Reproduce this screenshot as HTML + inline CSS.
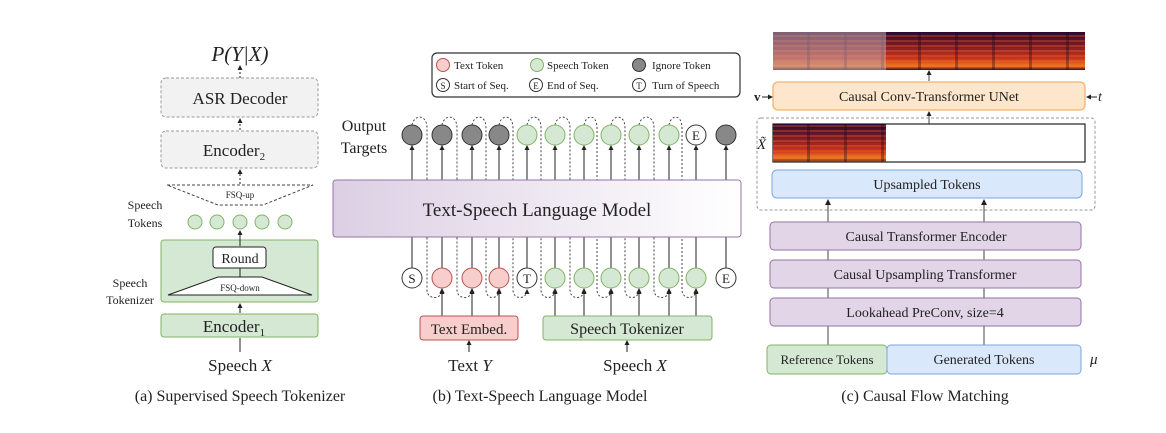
<!DOCTYPE html>
<html><head><meta charset="utf-8"><style>
html,body{margin:0;padding:0;background:#fff;}
svg{display:block;}
text{font-family:"Liberation Serif",serif;fill:#222;}
</style></head><body>
<svg width="1166" height="433" viewBox="0 0 1166 433" xmlns="http://www.w3.org/2000/svg">
<defs>
<marker id="ah" markerWidth="6" markerHeight="6" refX="5" refY="3" orient="auto" markerUnits="userSpaceOnUse"><path d="M0,0 L6,3 L0,6 Z" fill="#222"/></marker>
<marker id="ahs" markerWidth="5" markerHeight="5" refX="4" refY="2.5" orient="auto" markerUnits="userSpaceOnUse"><path d="M0,0 L5,2.5 L0,5 Z" fill="#222"/></marker>
<linearGradient id="lmg" x1="0" x2="1" y1="0" y2="0"><stop offset="0" stop-color="#dccfe4"/><stop offset="1" stop-color="#ffffff"/></linearGradient>
<linearGradient id="spv" x1="0" x2="0" y1="0" y2="1"><stop offset="0" stop-color="#2a0a30"/><stop offset="0.35" stop-color="#7a1a28"/><stop offset="0.7" stop-color="#c8351c"/><stop offset="0.9" stop-color="#f07a20"/><stop offset="1" stop-color="#3a0a20"/></linearGradient>
<pattern id="stripes" width="8" height="5" patternUnits="userSpaceOnUse"><rect width="8" height="2" fill="#ff6a20" opacity="0.3"/></pattern>
<pattern id="vbands" width="37" height="40" patternUnits="userSpaceOnUse"><rect x="30" width="3" height="40" fill="#1a0520" opacity="0.35"/></pattern>
</defs>

<!-- (a) -->
<text x="240" y="61" font-size="21" text-anchor="middle" font-style="italic">P(Y|X)</text>
<line x1="240" y1="78" x2="240" y2="66" stroke="#222" stroke-dasharray="2,2" marker-end="url(#ahs)"/>
<rect x="161" y="78" width="157" height="39" rx="5" fill="#f2f2f2" stroke="#999" stroke-dasharray="3,2"/>
<text x="240" y="104" font-size="17" text-anchor="middle" fill="#555">ASR Decoder</text>
<line x1="240" y1="130" x2="240" y2="119" stroke="#222" stroke-dasharray="2,2" marker-end="url(#ahs)"/>
<rect x="161" y="131" width="157" height="37" rx="5" fill="#f2f2f2" stroke="#999" stroke-dasharray="3,2"/>
<text x="234" y="156" font-size="17" text-anchor="middle">Encoder<tspan font-size="11" dy="4">2</tspan></text>
<line x1="240" y1="184" x2="240" y2="170" stroke="#222" stroke-dasharray="2,2" marker-end="url(#ahs)"/>
<path d="M167,185 L313,185 L263,205 L218,205 Z" fill="none" stroke="#444" stroke-dasharray="3,2"/>
<text x="240" y="198" font-size="9" text-anchor="middle">FSQ-up</text>
<text x="145" y="209" font-size="12" text-anchor="middle">Speech</text>
<text x="145" y="227" font-size="12" text-anchor="middle">Tokens</text>
<g fill="#d5e8d4" stroke="#82b366"><circle cx="195" cy="222" r="7"/><circle cx="217" cy="222" r="7"/><circle cx="240" cy="222" r="7"/><circle cx="262" cy="222" r="7"/><circle cx="285" cy="222" r="7"/></g>
<rect x="161" y="240" width="157" height="62" rx="3" fill="#d5e8d4" stroke="#82b366"/>
<line x1="240" y1="246" x2="240" y2="231" stroke="#222" marker-end="url(#ahs)"/>
<rect x="213" y="247" width="53" height="21" rx="3" fill="#fff" stroke="#222"/>
<text x="240" y="263" font-size="14" text-anchor="middle">Round</text>
<line x1="240" y1="277" x2="240" y2="268" stroke="#222"/>
<path d="M218,277 L262,277 L312,295 L168,295 Z" fill="#fff" stroke="#222"/>
<text x="240" y="291" font-size="9" text-anchor="middle">FSQ-down</text>
<text x="130" y="287" font-size="12" text-anchor="middle">Speech</text>
<text x="130" y="304" font-size="12" text-anchor="middle">Tokenizer</text>
<line x1="240" y1="313" x2="240" y2="304" stroke="#222" marker-end="url(#ahs)"/>
<rect x="161" y="314" width="157" height="23" rx="3" fill="#d5e8d4" stroke="#82b366"/>
<text x="234" y="332" font-size="17" text-anchor="middle">Encoder<tspan font-size="11" dy="4">1</tspan></text>
<line x1="240" y1="352" x2="240" y2="338" stroke="#222"/>
<text x="240" y="371" font-size="17" text-anchor="middle">Speech <tspan font-style="italic">X</tspan></text>
<text x="240" y="401" font-size="16" text-anchor="middle">(a) Supervised Speech Tokenizer</text>

<!-- (b) -->
<rect x="432" y="53" width="308" height="44" rx="5" fill="#fff" stroke="#333" stroke-width="1.2"/>
<circle cx="443" cy="65" r="6.5" fill="#f8cecc" stroke="#b85450"/><text x="454" y="69" font-size="11">Text Token</text>
<circle cx="537" cy="65" r="6.5" fill="#d5e8d4" stroke="#82b366"/><text x="547" y="69" font-size="11">Speech Token</text>
<circle cx="639" cy="65" r="6.5" fill="#888" stroke="#333"/><text x="652" y="69" font-size="11">Ignore Token</text>
<circle cx="443" cy="85" r="6.5" fill="#fff" stroke="#333"/><text x="443" y="89" font-size="9" text-anchor="middle">S</text><text x="454" y="89" font-size="11">Start of Seq.</text>
<circle cx="536" cy="85" r="6.5" fill="#fff" stroke="#333"/><text x="536" y="89" font-size="9" text-anchor="middle">E</text><text x="547" y="89" font-size="11">End of Seq.</text>
<circle cx="639" cy="85" r="6.5" fill="#fff" stroke="#333"/><text x="639" y="89" font-size="9" text-anchor="middle">T</text><text x="652" y="89" font-size="11">Turn of Speech</text>

<text x="364" y="131" font-size="16" text-anchor="middle">Output</text>
<text x="364" y="153" font-size="16" text-anchor="middle">Targets</text>

<g fill="none" stroke="#333" stroke-dasharray="2,2" stroke-width="0.9">
<path d="M412,125 C414,114 427,114 427,128 L427,290 C427,300 442,300 442,290" marker-end="url(#ahs)"/>
<path d="M442,125 C444,114 457,114 457,128 L457,290 C457,300 472,300 472,290" marker-end="url(#ahs)"/>
<path d="M472,125 C474,114 486,114 486,128 L486,290 C486,300 499,300 499,290" marker-end="url(#ahs)"/>
<path d="M499,125 C501,114 513,114 513,128 L513,290 C513,300 527,300 527,290" marker-end="url(#ahs)"/>
<path d="M527,125 C529,114 541,114 541,128 L541,290 C541,300 555,300 555,290" marker-end="url(#ahs)"/>
<path d="M555,125 C557,114 570,114 570,128 L570,290 C570,300 584,300 584,290" marker-end="url(#ahs)"/>
<path d="M584,125 C586,114 597,114 597,128 L597,290 C597,300 611,300 611,290" marker-end="url(#ahs)"/>
<path d="M611,125 C613,114 625,114 625,128 L625,290 C625,300 639,300 639,290" marker-end="url(#ahs)"/>
<path d="M639,125 C641,114 654,114 654,128 L654,290 C654,300 669,300 669,290" marker-end="url(#ahs)"/>
<path d="M669,125 C671,114 682,114 682,128 L682,290 C682,300 696,300 696,290" marker-end="url(#ahs)"/>
</g>
<g stroke="#222">
<line x1="412" y1="180" x2="412" y2="146" marker-end="url(#ahs)"/><line x1="442" y1="180" x2="442" y2="146" marker-end="url(#ahs)"/><line x1="472" y1="180" x2="472" y2="146" marker-end="url(#ahs)"/><line x1="499" y1="180" x2="499" y2="146" marker-end="url(#ahs)"/><line x1="527" y1="180" x2="527" y2="146" marker-end="url(#ahs)"/><line x1="555" y1="180" x2="555" y2="146" marker-end="url(#ahs)"/><line x1="584" y1="180" x2="584" y2="146" marker-end="url(#ahs)"/><line x1="611" y1="180" x2="611" y2="146" marker-end="url(#ahs)"/><line x1="639" y1="180" x2="639" y2="146" marker-end="url(#ahs)"/><line x1="669" y1="180" x2="669" y2="146" marker-end="url(#ahs)"/><line x1="696" y1="180" x2="696" y2="146" marker-end="url(#ahs)"/><line x1="726" y1="180" x2="726" y2="146" marker-end="url(#ahs)"/>
<line x1="412" y1="268" x2="412" y2="237"/><line x1="442" y1="268" x2="442" y2="237"/><line x1="472" y1="268" x2="472" y2="237"/><line x1="499" y1="268" x2="499" y2="237"/><line x1="527" y1="268" x2="527" y2="237"/><line x1="555" y1="268" x2="555" y2="237"/><line x1="584" y1="268" x2="584" y2="237"/><line x1="611" y1="268" x2="611" y2="237"/><line x1="639" y1="268" x2="639" y2="237"/><line x1="669" y1="268" x2="669" y2="237"/><line x1="696" y1="268" x2="696" y2="237"/><line x1="726" y1="268" x2="726" y2="237"/>
<line x1="442" y1="316" x2="442" y2="289" marker-end="url(#ahs)"/><line x1="472" y1="316" x2="472" y2="289" marker-end="url(#ahs)"/><line x1="499" y1="316" x2="499" y2="289" marker-end="url(#ahs)"/>
<line x1="555" y1="316" x2="555" y2="289" marker-end="url(#ahs)"/><line x1="584" y1="316" x2="584" y2="289" marker-end="url(#ahs)"/><line x1="611" y1="316" x2="611" y2="289" marker-end="url(#ahs)"/><line x1="639" y1="316" x2="639" y2="289" marker-end="url(#ahs)"/><line x1="669" y1="316" x2="669" y2="289" marker-end="url(#ahs)"/><line x1="696" y1="316" x2="696" y2="289" marker-end="url(#ahs)"/>
<line x1="469" y1="352" x2="469" y2="341" marker-end="url(#ahs)"/><line x1="627" y1="352" x2="627" y2="341" marker-end="url(#ahs)"/>
</g>
<g fill="#888" stroke="#333"><circle cx="412" cy="135" r="10"/><circle cx="442" cy="135" r="10"/><circle cx="472" cy="135" r="10"/><circle cx="499" cy="135" r="10"/><circle cx="726" cy="135" r="10"/></g>
<g fill="#d5e8d4" stroke="#82b366"><circle cx="527" cy="135" r="10"/><circle cx="555" cy="135" r="10"/><circle cx="584" cy="135" r="10"/><circle cx="611" cy="135" r="10"/><circle cx="639" cy="135" r="10"/><circle cx="669" cy="135" r="10"/></g>
<circle cx="696" cy="135" r="10" fill="#fff" stroke="#333"/><text x="696" y="140" font-size="13" text-anchor="middle">E</text>

<rect x="333" y="180" width="408" height="57" rx="3" fill="url(#lmg)" stroke="#9673a6"/>
<text x="537" y="216" font-size="19" text-anchor="middle">Text-Speech Language Model</text>

<circle cx="412" cy="278" r="10" fill="#fff" stroke="#333"/><text x="412" y="283" font-size="13" text-anchor="middle">S</text>
<g fill="#f8cecc" stroke="#b85450"><circle cx="442" cy="278" r="10"/><circle cx="472" cy="278" r="10"/><circle cx="499" cy="278" r="10"/></g>
<circle cx="527" cy="278" r="10" fill="#fff" stroke="#333"/><text x="527" y="283" font-size="13" text-anchor="middle">T</text>
<g fill="#d5e8d4" stroke="#82b366"><circle cx="555" cy="278" r="10"/><circle cx="584" cy="278" r="10"/><circle cx="611" cy="278" r="10"/><circle cx="639" cy="278" r="10"/><circle cx="669" cy="278" r="10"/><circle cx="696" cy="278" r="10"/></g>
<circle cx="726" cy="278" r="10" fill="#fff" stroke="#333"/><text x="726" y="283" font-size="13" text-anchor="middle">E</text>

<rect x="420" y="316" width="98" height="24" rx="3" fill="#f8cecc" stroke="#b85450"/>
<text x="469" y="334" font-size="15" text-anchor="middle">Text Embed.</text>
<rect x="543" y="316" width="169" height="24" rx="3" fill="#d5e8d4" stroke="#82b366"/>
<text x="627" y="334" font-size="16" text-anchor="middle">Speech Tokenizer</text>
<text x="470" y="371" font-size="17" text-anchor="middle">Text <tspan font-style="italic">Y</tspan></text>
<text x="635" y="371" font-size="17" text-anchor="middle">Speech <tspan font-style="italic">X</tspan></text>
<text x="540" y="401" font-size="16" text-anchor="middle">(b) Text-Speech Language Model</text>

<!-- (c) -->
<rect x="773" y="32" width="312" height="38" fill="url(#spv)"/>
<rect x="773" y="32" width="312" height="38" fill="url(#stripes)"/>
<rect x="773" y="32" width="312" height="38" fill="url(#vbands)"/>
<rect x="773" y="32" width="113" height="38" fill="#c0a8b0" opacity="0.55"/>
<line x1="929" y1="81" x2="929" y2="71" stroke="#444" marker-end="url(#ahs)"/>
<rect x="773" y="82" width="312" height="28" rx="5" fill="#fde6cc" stroke="#f2b36a" stroke-width="1.3"/>
<text x="929" y="101" font-size="14" text-anchor="middle">Causal Conv-Transformer UNet</text>
<text x="754" y="101" font-size="13" font-weight="bold">v</text>
<line x1="762" y1="97" x2="772" y2="97" stroke="#222" marker-end="url(#ahs)"/>
<line x1="1097" y1="97" x2="1087" y2="97" stroke="#222" marker-end="url(#ahs)"/>
<text x="1098" y="101" font-size="14" font-style="italic">t</text>
<line x1="929" y1="124" x2="929" y2="112" stroke="#444" marker-end="url(#ahs)"/>
<rect x="757" y="118" width="338" height="92" rx="4" fill="none" stroke="#999" stroke-dasharray="3,2"/>
<rect x="773" y="124" width="312" height="38" fill="#fff" stroke="#222" stroke-width="1.2"/>
<rect x="773" y="124" width="113" height="38" fill="url(#spv)"/>
<rect x="773" y="124" width="113" height="38" fill="url(#stripes)"/>
<rect x="773" y="124" width="113" height="38" fill="url(#vbands)"/>
<text x="757" y="149" font-size="15" font-style="italic">X̃</text>
<rect x="772" y="170" width="310" height="28" rx="5" fill="#dae8fc" stroke="#7ea6e0"/>
<text x="927" y="189" font-size="14" text-anchor="middle">Upsampled Tokens</text>
<g stroke="#444">
<line x1="828" y1="222" x2="828" y2="200" marker-end="url(#ah)"/><line x1="984" y1="222" x2="984" y2="200" marker-end="url(#ah)"/>
<line x1="828" y1="260" x2="828" y2="250"/><line x1="984" y1="260" x2="984" y2="250"/>
<line x1="828" y1="298" x2="828" y2="288"/><line x1="984" y1="298" x2="984" y2="288"/>
<line x1="828" y1="345" x2="828" y2="326"/><line x1="984" y1="345" x2="984" y2="326"/>
</g>
<g fill="#e1d5e7" stroke="#9673a6">
<rect x="770" y="222" width="311" height="28" rx="4"/>
<rect x="770" y="260" width="311" height="28" rx="4"/>
<rect x="770" y="298" width="311" height="28" rx="4"/>
</g>
<text x="926" y="241" font-size="14" text-anchor="middle">Causal Transformer Encoder</text>
<text x="925" y="279" font-size="14" text-anchor="middle">Causal Upsampling Transformer</text>
<text x="925" y="317" font-size="14" text-anchor="middle">Lookahead PreConv, size=4</text>
<rect x="767" y="345" width="120" height="29" rx="4" fill="#d5e8d4" stroke="#82b366"/>
<text x="827" y="364" font-size="13" text-anchor="middle">Reference Tokens</text>
<rect x="887" y="345" width="194" height="29" rx="4" fill="#dae8fc" stroke="#7ea6e0"/>
<text x="984" y="364" font-size="14" text-anchor="middle">Generated Tokens</text>
<text x="1090" y="364" font-size="15" font-style="italic">μ</text>
<text x="925" y="401" font-size="16" text-anchor="middle">(c) Causal Flow Matching</text>
</svg>
</body></html>
